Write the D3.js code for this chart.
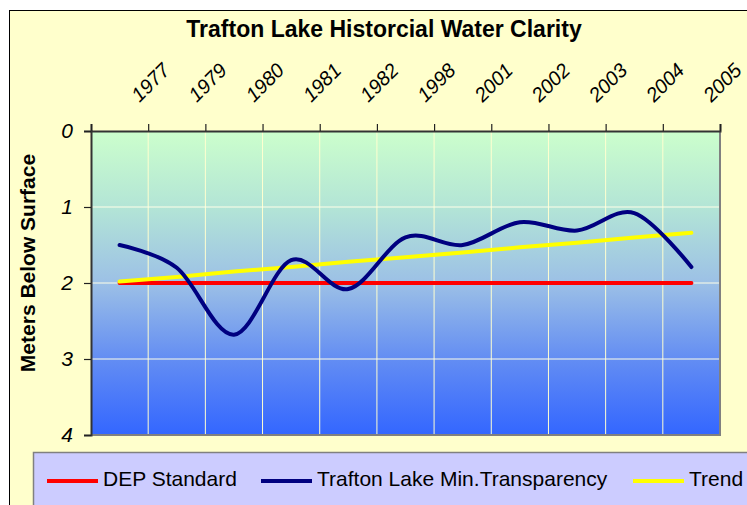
<!DOCTYPE html>
<html>
<head>
<meta charset="utf-8">
<script src="https://cdn.jsdelivr.net/npm/d3@7"></script>
<style>
  body { margin: 0; background: #fff; }
  svg { display: block; font-family: Arial, "Liberation Sans", sans-serif; }
</style>
</head>
<body>
<svg id="chart"></svg>
<script>
const width = 747;
const height = 505;

// data
const years = ['1977', '1979', '1980', '1981', '1982', '1998', '2001', '2002', '2003', '2004', '2005'];
const minTransparency = [1.50, 1.80, 2.68, 1.70, 2.08, 1.40, 1.50, 1.20, 1.31, 1.08, 1.79];
const depStandard = [2, 2, 2, 2, 2, 2, 2, 2, 2, 2, 2];
const trend = [1.98, 1.92, 1.85, 1.79, 1.72, 1.66, 1.60, 1.53, 1.47, 1.40, 1.34];
const yTicks = [0, 1, 2, 3, 4];
const legendItems = ['DEP Standard', 'Trafton Lake Min.Transparency', 'Trend'];
const legendColors = ['#FF0000', '#000080', '#FFFF00'];

const plot = {left: 91, right: 720, top: 131, bottom: 435};

const svg = d3.select('#chart')
  .attr('width', width)
  .attr('height', height);

const defs = svg.append('defs');
const grad = defs.append('linearGradient')
  .attr('id', 'water')
  .attr('x1', 0).attr('y1', 0).attr('x2', 0).attr('y2', 1);
[[0, '#CCFFCC'], [0.25, '#B3E5D6'], [0.5, '#9CC0E6'], [0.75, '#638DF3'], [1, '#3366FF']]
  .forEach(s => grad.append('stop').attr('offset', s[0]).attr('stop-color', s[1]));

// chart area
svg.append('rect')
  .attr('x', 9.5).attr('y', 10.5)
  .attr('width', 800).attr('height', 600)
  .attr('fill', '#FFFFCC')
  .attr('stroke', '#000')
  .attr('stroke-width', 1);

const x = d3.scaleBand().domain(years).range([plot.left, plot.right]);
const xTick = d3.scaleLinear().domain([0, years.length]).range([plot.left, plot.right]);
const y = d3.scaleLinear().domain([0, 4]).range([plot.top, plot.bottom]);
const cx = d => x(d) + x.bandwidth() / 2;

// plot area
svg.append('rect')
  .attr('x', plot.left).attr('y', plot.top)
  .attr('width', plot.right - plot.left).attr('height', plot.bottom - plot.top)
  .attr('fill', 'url(#water)');

// gridlines
svg.append('g').selectAll('line')
  .data(d3.range(1, years.length)).enter().append('line')
  .attr('x1', d => xTick(d)).attr('x2', d => xTick(d))
  .attr('y1', plot.top).attr('y2', plot.bottom)
  .attr('stroke', '#FFFFD0').attr('stroke-width', 1);

svg.append('g').selectAll('line')
  .data(yTicks.slice(1, -1)).enter().append('line')
  .attr('x1', plot.left).attr('x2', plot.right)
  .attr('y1', d => y(d)).attr('y2', d => y(d))
  .attr('stroke', '#FFFFE8').attr('stroke-width', 1);

// right and bottom frame
svg.append('path')
  .attr('d', `M${plot.right},${plot.top}V${plot.bottom}H${plot.left}`)
  .attr('fill', 'none')
  .attr('stroke', '#808080')
  .attr('stroke-width', 2);

// top axis (category ticks between labels)
const xAxis = svg.append('g')
  .attr('transform', `translate(0, ${plot.top})`)
  .call(d3.axisTop(xTick).tickValues(d3.range(0, years.length + 1)).tickSize(7).tickFormat(''));
xAxis.select('.domain').attr('stroke', '#333').attr('stroke-width', 2);
xAxis.selectAll('.tick line').attr('stroke', '#222').attr('stroke-width', 1.2);

svg.append('g').selectAll('text')
  .data(years).enter().append('text')
  .attr('transform', d => `translate(${cx(d) + 20}, 103) rotate(-45)`)
  .attr('font-size', 20)
  .attr('font-style', 'italic')
  .attr('fill', '#000')
  .text(d => d);

// left axis
const yAxis = svg.append('g')
  .attr('transform', `translate(${plot.left}, 0)`)
  .call(d3.axisLeft(y).tickValues(yTicks).tickSize(7).tickPadding(11).tickFormat(d3.format('d')));
yAxis.select('.domain').attr('stroke', '#333').attr('stroke-width', 2);
yAxis.selectAll('.tick line').attr('stroke', '#222').attr('stroke-width', 1.2);
yAxis.selectAll('.tick text')
  .attr('font-size', 21)
  .attr('font-style', 'italic')
  .attr('font-family', 'Arial, "Liberation Sans", sans-serif')
  .attr('fill', '#000');

// series
const line = d3.line()
  .x((d, i) => cx(years[i]))
  .y(d => y(d));

svg.append('path')
  .datum(depStandard)
  .attr('d', line)
  .attr('fill', 'none')
  .attr('stroke', '#FF0000')
  .attr('stroke-width', 4)
  .attr('stroke-linecap', 'round');

svg.append('path')
  .datum(trend)
  .attr('d', line)
  .attr('fill', 'none')
  .attr('stroke', '#FFFF00')
  .attr('stroke-width', 4)
  .attr('stroke-linecap', 'round');

svg.append('path')
  .datum(minTransparency)
  .attr('d', line.curve(d3.curveCardinal))
  .attr('fill', 'none')
  .attr('stroke', '#000080')
  .attr('stroke-width', 4)
  .attr('stroke-linecap', 'round')
  .attr('stroke-linejoin', 'round');

// titles
svg.append('text')
  .attr('x', 384).attr('y', 37)
  .attr('text-anchor', 'middle')
  .attr('font-size', 23)
  .attr('font-weight', 'bold')
  .text('Trafton Lake Historcial Water Clarity');

svg.append('text')
  .attr('transform', 'translate(35, 263) rotate(-90)')
  .attr('text-anchor', 'middle')
  .attr('font-size', 21)
  .attr('font-weight', 'bold')
  .text('Meters Below Surface');

// legend
svg.append('rect')
  .attr('x', 33.5).attr('y', 452.5)
  .attr('width', 800).attr('height', 100)
  .attr('fill', '#CCCCFF')
  .attr('stroke', '#808080')
  .attr('stroke-width', 1.5);

const legendX = [47, 261, 633];
const legend = svg.append('g').selectAll('g')
  .data(legendItems).enter().append('g')
  .attr('transform', (d, i) => `translate(${legendX[i]}, 481)`);

legend.append('line')
  .attr('x1', 0).attr('x2', 51)
  .attr('stroke', (d, i) => legendColors[i])
  .attr('stroke-width', 4);

legend.append('text')
  .attr('x', 56).attr('y', 5)
  .attr('font-size', 21)
  .text(d => d);
</script>
</body>
</html>
